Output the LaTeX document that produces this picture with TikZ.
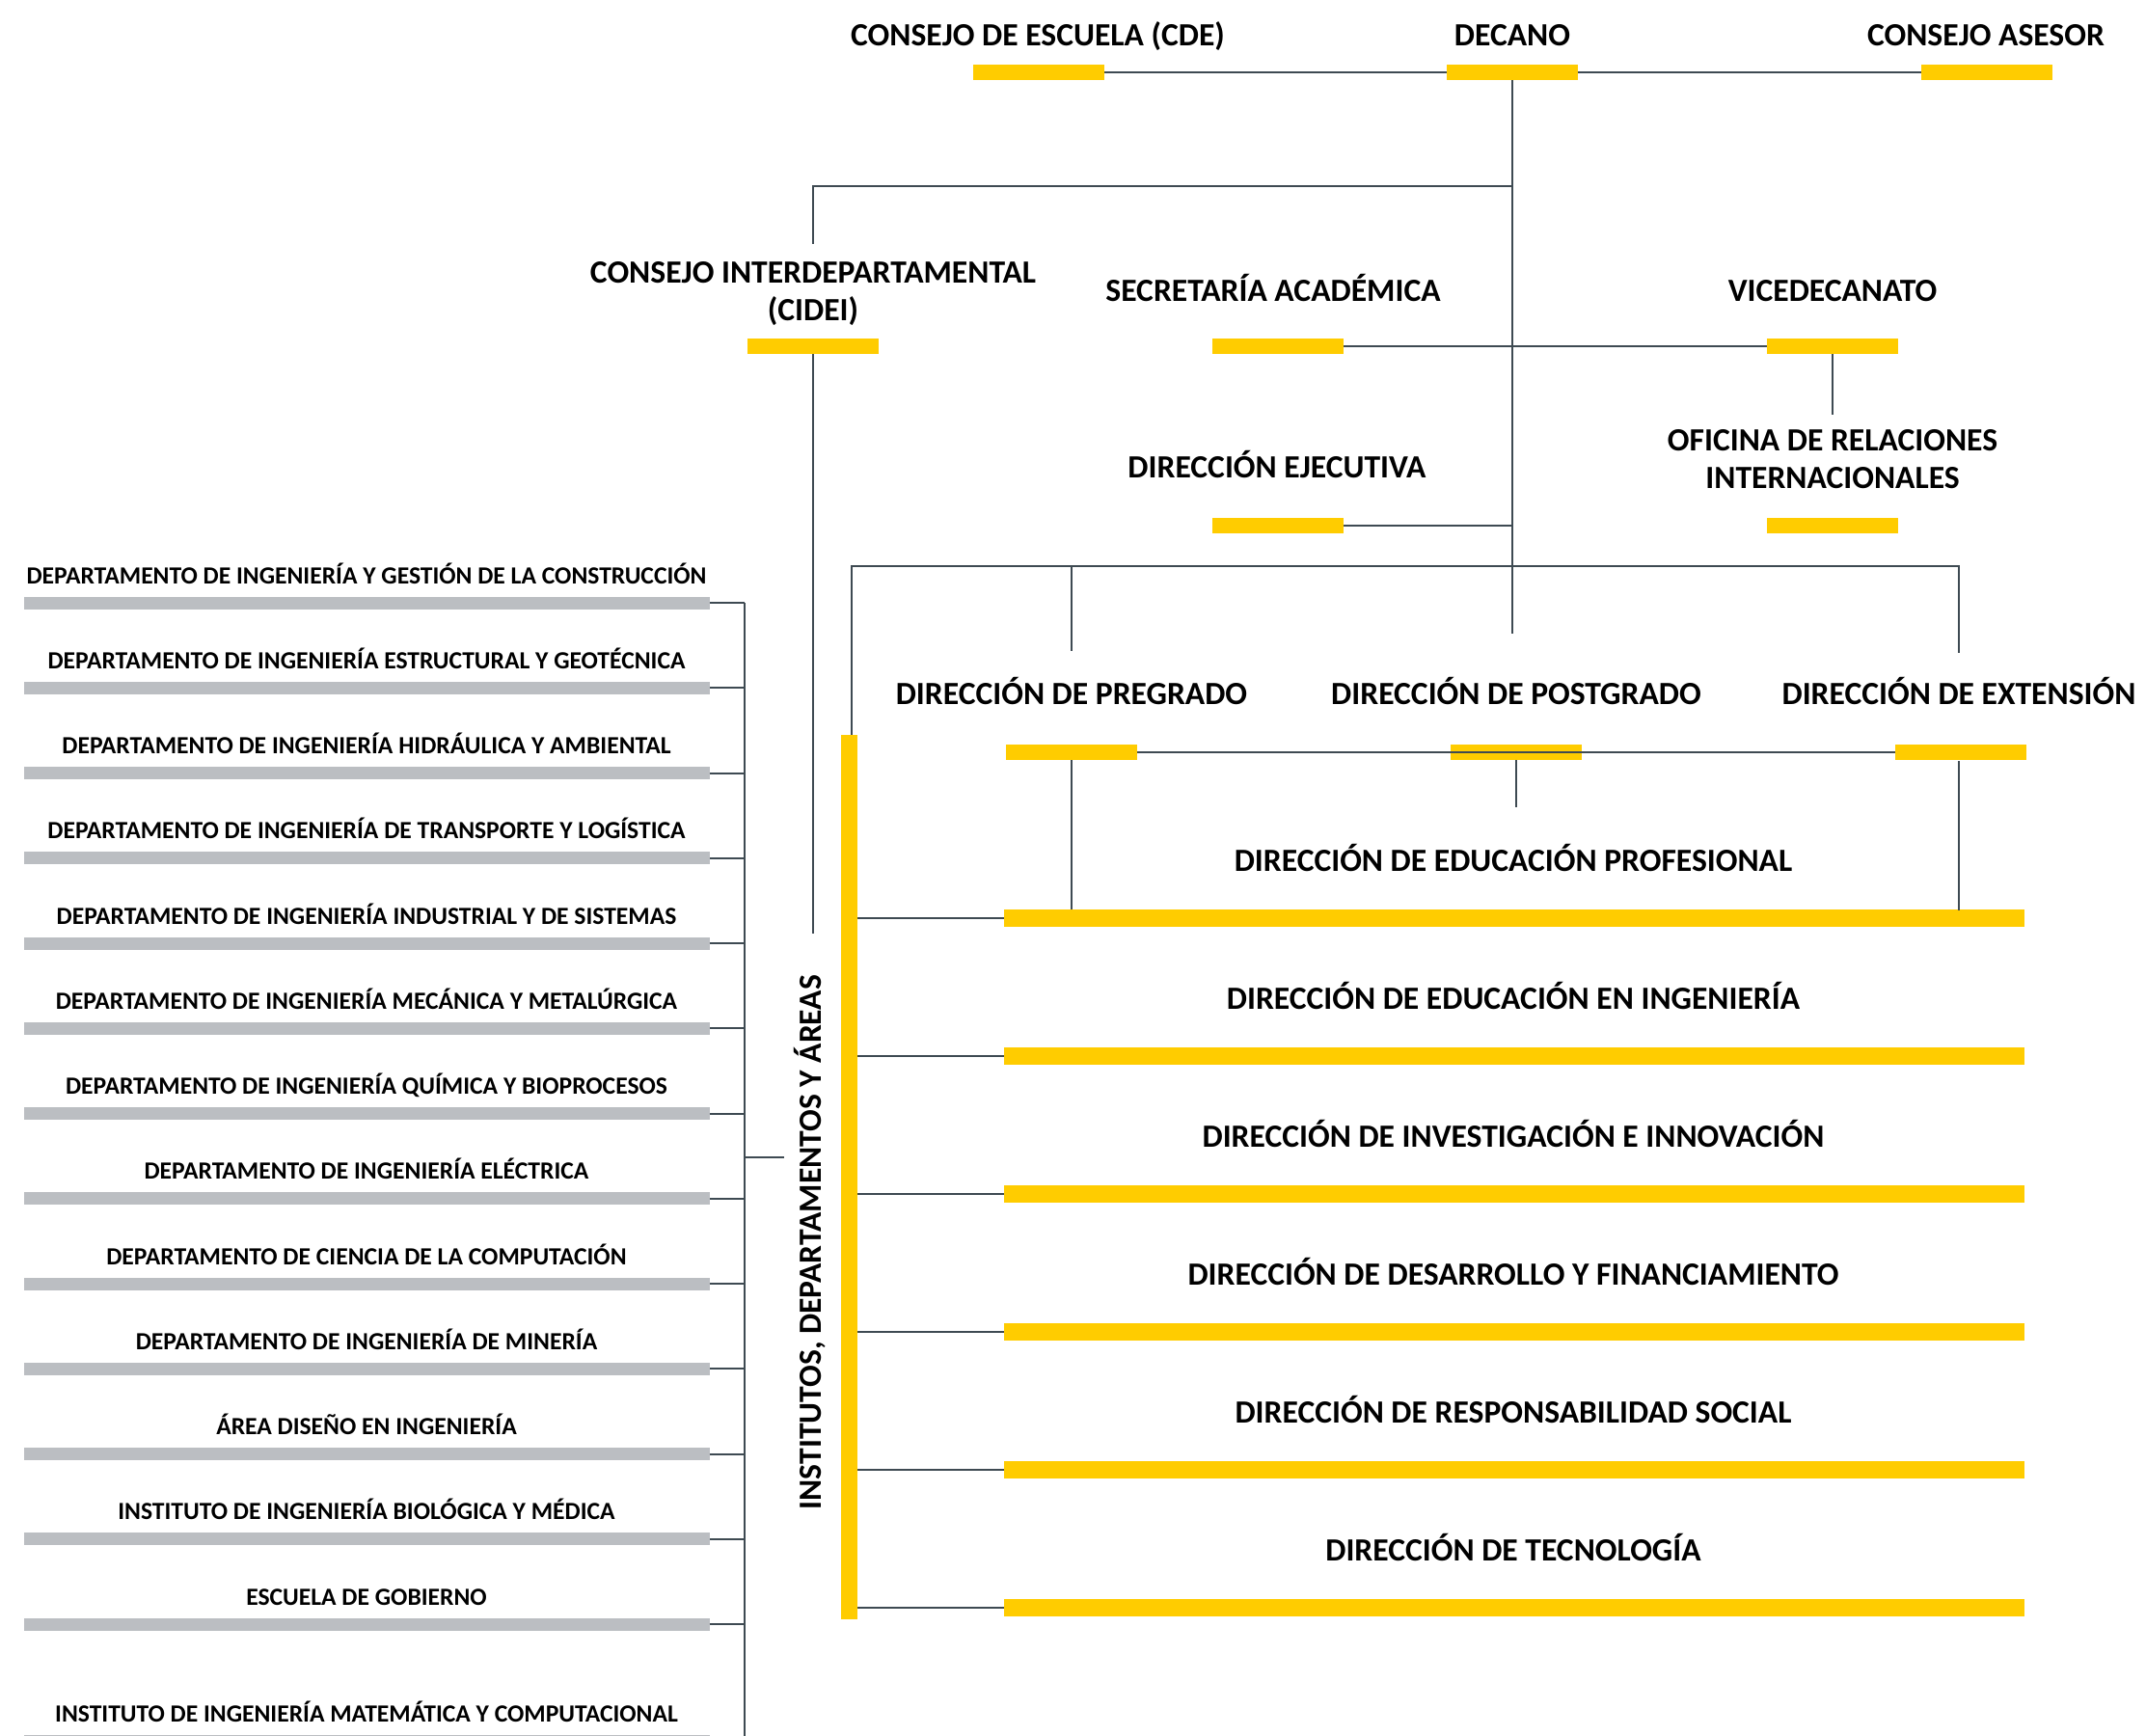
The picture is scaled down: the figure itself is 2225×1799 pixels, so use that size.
\documentclass[tikz,border=0pt]{standalone}
\usepackage{fontspec}
\setmainfont{Carlito}
\usetikzlibrary{calc}

\definecolor{amarillo}{HTML}{FFCC00}
\definecolor{gris}{HTML}{BBBEC2}
\definecolor{linea}{HTML}{3E4A52}

\begin{document}
\begin{tikzpicture}[x=0.5pt,y=-0.5pt,
  barra/.style={fill=amarillo,inner sep=0pt,minimum width=68pt,minimum height=8pt},
  barraancha/.style={fill=amarillo,inner sep=0pt,minimum width=529pt,minimum height=9pt},
  barragris/.style={fill=gris,inner sep=0pt,minimum width=355.5pt,minimum height=6.5pt},
  titulo/.style={anchor=base,inner sep=0pt,font=\bfseries\fontsize{16.8}{19.5}\selectfont,align=center},
  depto/.style={anchor=base,inner sep=0pt,font=\bfseries\fontsize{12.8}{15}\selectfont},
  enlace/.style={draw=linea,line width=1pt}]

  \useasboundingbox (0,0) rectangle (2225,1799);

  % decano y consejos
  \node [barra] (cde) at (1077,75) {};
  \node [barra] (decano) at (1568,75) {};
  \node [barra] (asesor) at (2060,75) {};
  \node [titulo] (tcde) at (1076,47) {CONSEJO DE ESCUELA (CDE)};
  \node [titulo] (tdecano) at (1568,47) {DECANO};
  \node [titulo] (tasesor) at (2059,47) {CONSEJO ASESOR};
  \draw [enlace] (cde.east) -- (decano.west);
  \draw [enlace] (decano.east) -- (asesor.west);

  \coordinate (eje) at (1568,657);
  \draw [enlace] (decano.south) -- (eje);

  % cidei
  \node [barra] (cidei) at (843,359) {};
  \node [titulo] (tcidei) at (843,332) {CONSEJO INTERDEPARTAMENTAL\\(CIDEI)};
  \coordinate (rcidei) at (843,193);
  \draw [enlace] (rcidei -| decano) -- (rcidei) -- ++(0,60);
  \coordinate (fcidei) at (843,968);
  \draw [enlace] (cidei.south) -- (fcidei);

  % secretaria, vicedecanato, ejecutiva
  \node [barra] (sec) at (1325,359) {};
  \node [barra] (vice) at (1900,359) {};
  \node [barra] (ejec) at (1325,545) {};
  \node [barra] (ori) at (1900,545) {};
  \node [titulo] (tsec) at (1320,312) {SECRETARÍA ACADÉMICA};
  \node [titulo] (tvice) at (1900,312) {VICEDECANATO};
  \node [titulo] (tejec) at (1324,495) {DIRECCIÓN EJECUTIVA};
  \node [titulo] (tori) at (1900,506) {OFICINA DE RELACIONES\\INTERNACIONALES};
  \draw [enlace] (sec.east) -- (vice.west);
  \draw [enlace] (vice.south) -- ++(0,63);
  \draw [enlace] (ejec.east) -- (ejec.east -| decano);

  % barra vertical de direcciones
  \node [fill=amarillo,inner sep=0pt,minimum width=8.5pt,minimum height=458.5pt] (vbar) at (880.5,1220.5) {};

  % pregrado, postgrado, extension
  \node [barra] (preg) at (1111,780) {};
  \node [barra] (postg) at (1572,780) {};
  \node [barra] (ext) at (2033,780) {};
  \node [titulo] (tpreg) at (1111,730) {DIRECCIÓN DE PREGRADO};
  \node [titulo] (tpostg) at (1572,730) {DIRECCIÓN DE POSTGRADO};
  \node [titulo] (text) at (2031,730) {DIRECCIÓN DE EXTENSIÓN};
  \draw [enlace] (preg.east) -- (ext.west);

  \coordinate (rdir) at (883,587);
  \draw [enlace] (rdir |- vbar.north) -- (rdir) -- (2031,587) -- (2031,677);
  \draw [enlace] (1111,587) -- (1111,675);

  \foreach \t [count=\i from 0] in {DIRECCIÓN DE EDUCACIÓN PROFESIONAL,DIRECCIÓN DE EDUCACIÓN EN INGENIERÍA,DIRECCIÓN DE INVESTIGACIÓN E INNOVACIÓN,DIRECCIÓN DE DESARROLLO Y FINANCIAMIENTO,DIRECCIÓN DE RESPONSABILIDAD SOCIAL,DIRECCIÓN DE TECNOLOGÍA} {
    \pgfmathsetmacro{\y}{952+143.0*\i}
    \node [barraancha] (dir\i) at (1570,\y) {};
    \node [titulo] (tdir\i) at (1569,\y-49) {\t};
    \draw [enlace] (dir\i.west) -- (dir\i.west -| vbar.east);
  }

  \draw [enlace] (preg.south) -- (preg.south |- dir0.north);
  \draw [enlace] (2031,789) -- (2031,944);
  \draw [enlace] (postg.south) -- ++(0,49);

  % departamentos
  \coordinate (rdep) at (772,625);
  \draw [enlace] (rdep) -- (772,1810);

  \foreach \t [count=\i from 0] in {DEPARTAMENTO DE INGENIERÍA Y GESTIÓN DE LA CONSTRUCCIÓN,DEPARTAMENTO DE INGENIERÍA ESTRUCTURAL Y GEOTÉCNICA,DEPARTAMENTO DE INGENIERÍA HIDRÁULICA Y AMBIENTAL,DEPARTAMENTO DE INGENIERÍA DE TRANSPORTE Y LOGÍSTICA,DEPARTAMENTO DE INGENIERÍA INDUSTRIAL Y DE SISTEMAS,DEPARTAMENTO DE INGENIERÍA MECÁNICA Y METALÚRGICA,DEPARTAMENTO DE INGENIERÍA QUÍMICA Y BIOPROCESOS,DEPARTAMENTO DE INGENIERÍA ELÉCTRICA,DEPARTAMENTO DE CIENCIA DE LA COMPUTACIÓN,DEPARTAMENTO DE INGENIERÍA DE MINERÍA,ÁREA DISEÑO EN INGENIERÍA,INSTITUTO DE INGENIERÍA BIOLÓGICA Y MÉDICA,ESCUELA DE GOBIERNO} {
    \pgfmathsetmacro{\y}{625+88.25*\i}
    \node [barragris] (dep\i) at (380,\y) {};
    \node [depto] (tdep\i) at (380,\y-20) {\t};
    \draw [enlace] (dep\i.east) -- (dep\i.east -| rdep);
  }
  \node [barragris] (dep13) at (380,1805) {};
  \node [depto] (tdep13) at (380,1785) {INSTITUTO DE INGENIERÍA MATEMÁTICA Y COMPUTACIONAL};

  \node [titulo,anchor=center,rotate=90] (inst) at (840,1288) {INSTITUTOS, DEPARTAMENTOS Y ÁREAS};
  \draw [enlace] (772,1200) -- (813,1200);

\end{tikzpicture}
\end{document}
